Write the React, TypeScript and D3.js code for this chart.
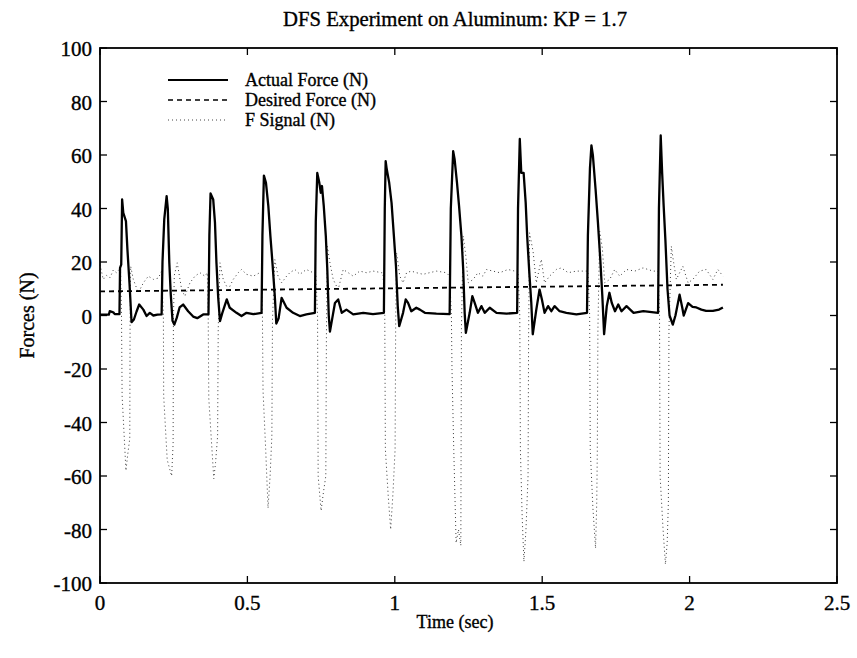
import React from "react";
import * as d3 from "d3";

const W = 857;
const H = 658;
const M = { left: 100, right: 837, top: 48, bottom: 583 };

const titleText = "DFS Experiment on Aluminum: KP = 1.7";
const xLabel = "Time (sec)";
const yLabel = "Forces (N)";
const xTicks = [0, 0.5, 1, 1.5, 2, 2.5];
const yTicks = [-100, -80, -60, -40, -20, 0, 20, 40, 60, 80, 100];
const legendLabels = ["Actual Force (N)", "Desired Force (N)", "F Signal (N)"];

const desiredForce: [number, number][] = [[0, 9], [2.113, 11.5]];

const actualForce: [number, number][] = [
  [0, 0.3], [0.03, 0.3], [0.033, 1.6], [0.045, 1.2], [0.05, 0.5], [0.066, 0.5],
  [0.068, 17.8], [0.072, 19], [0.075, 43.4], [0.079, 38.4], [0.088, 35.3], [0.093, 24.7], [0.1, 12.2], [0.107, -2.5], [0.115, -1.5], [0.124, 1.5], [0.133, 4.1], [0.147, 2.2], [0.158, -0.2], [0.169, 1], [0.181, 0], [0.195, 0.3], [0.209, 0.4],
  [0.212, 20], [0.218, 36], [0.226, 44.6], [0.23, 40], [0.235, 20], [0.24, 8], [0.246, -2], [0.252, -3.4], [0.26, -1], [0.27, 3], [0.282, 4.1], [0.299, 1.6], [0.316, -0.4], [0.33, -1], [0.35, 0.4], [0.368, 0.4],
  [0.371, 30], [0.375, 45.6], [0.384, 43.4], [0.39, 34.7], [0.395, 19.7], [0.401, 6.6], [0.407, -2.1], [0.415, 1], [0.43, 6], [0.44, 2.9], [0.463, 1], [0.48, -0.2], [0.497, 1], [0.52, 0.5], [0.548, 1],
  [0.551, 30], [0.556, 52.3], [0.563, 49.6], [0.571, 40.9], [0.578, 29.7], [0.585, 19.7], [0.593, 7.2], [0.598, -3], [0.606, -1], [0.616, 6.6], [0.633, 2.9], [0.655, 1], [0.678, -0.2], [0.7, 0.4], [0.729, 1],
  [0.732, 35], [0.737, 53.3], [0.744, 49.6], [0.749, 45.9], [0.753, 48.4], [0.759, 41], [0.766, 29.7], [0.771, 17.3], [0.776, 0], [0.78, -6], [0.788, -1], [0.797, 4.7], [0.808, 6], [0.82, 1], [0.836, 2.2], [0.859, 0.4], [0.893, 1], [0.926, 0.5], [0.963, 1],
  [0.966, 40], [0.969, 57.7], [0.972, 55.2], [0.981, 49.6], [0.989, 42.1], [0.997, 29.6], [1.004, 18.4], [1.01, 3.4], [1.015, -4], [1.028, 1], [1.037, 6], [1.045, 4.7], [1.056, 1.6], [1.073, 2.9], [1.085, 2.2], [1.102, 1], [1.141, 0.7], [1.186, 0.5],
  [1.19, 40], [1.198, 61.4], [1.203, 58.3], [1.211, 49.6], [1.218, 40.9], [1.226, 29.7], [1.232, 17.3], [1.237, 1], [1.241, -6.5], [1.254, 1], [1.263, 7.2], [1.271, 4.7], [1.282, 1], [1.294, 3.5], [1.305, 1], [1.322, 2.9], [1.345, 1], [1.379, 0.7], [1.415, 1],
  [1.418, 40], [1.424, 66], [1.429, 53.3], [1.437, 53.3], [1.444, 42.1], [1.449, 29.7], [1.457, 14.7], [1.463, 4.7], [1.468, -7], [1.48, 2.2], [1.491, 9.7], [1.499, 6], [1.508, 1], [1.52, 3.5], [1.531, 1.6], [1.542, 3.5], [1.559, 1.6], [1.582, 1], [1.616, 0.4], [1.652, 1],
  [1.655, 30], [1.662, 55], [1.667, 63.6], [1.672, 59.8], [1.681, 47.3], [1.689, 34.8], [1.697, 21], [1.704, 7.2], [1.71, -7], [1.719, 3.5], [1.728, 8.5], [1.736, 4.7], [1.747, 1.6], [1.758, 4.1], [1.769, 1.6], [1.786, 3.5], [1.81, 1], [1.843, 1.6], [1.893, 1],
  [1.896, 40], [1.902, 67.3], [1.907, 53], [1.912, 41], [1.918, 28], [1.925, 10], [1.932, 0], [1.943, -3.4], [1.952, 0], [1.966, 7.8], [1.975, 3], [1.98, 0], [1.995, 4.6], [2.01, 3.2], [2.023, 3], [2.04, 2.2], [2.056, 1.7], [2.079, 1.7], [2.1, 2.2], [2.113, 3],
];

const fSignal: [number, number][] = [
  [0, 19], [0.006, 16], [0.011, 13.5], [0.022, 15], [0.034, 14.1], [0.045, 17], [0.056, 16], [0.065, 17.2],
  [0.07, 16], [0.073, 0], [0.075, -30], [0.082, -45], [0.088, -58], [0.094, -52], [0.101, -46], [0.102, -4], [0.104, 18.4], [0.113, 13.5], [0.13, 8.5], [0.147, 12.2], [0.164, 14.7], [0.181, 13.5], [0.198, 14], [0.209, 16.6],
  [0.215, 0], [0.216, -30], [0.228, -54], [0.243, -60], [0.248, -48], [0.249, -2], [0.252, 15], [0.262, 19.7], [0.277, 9.7], [0.288, 7.2], [0.305, 12.2], [0.322, 14.7], [0.339, 16], [0.356, 14.7], [0.364, 16],
  [0.367, 0], [0.369, -31], [0.386, -61], [0.392, -55], [0.399, -45], [0.401, -5], [0.407, 19.7], [0.418, 13.5], [0.435, 9.7], [0.452, 13.5], [0.469, 16], [0.48, 17.2], [0.497, 15.4], [0.52, 14.7], [0.542, 16], [0.548, 16],
  [0.551, 0], [0.553, -28], [0.562, -50], [0.57, -72], [0.577, -60], [0.583, -45], [0.585, -2], [0.593, 20.9], [0.604, 14.7], [0.616, 12.2], [0.633, 14.7], [0.644, 16], [0.661, 17.2], [0.678, 15.4], [0.7, 17.2], [0.723, 16], [0.732, 16],
  [0.738, 0], [0.74, -60], [0.75, -73], [0.758, -66], [0.766, -60], [0.768, -8], [0.771, 25.9], [0.78, 19.7], [0.791, 13.5], [0.808, 9.7], [0.825, 17.2], [0.842, 16], [0.859, 14.7], [0.881, 16.6], [0.904, 16], [0.927, 16.6], [0.955, 16], [0.96, 16],
  [0.966, 0], [0.968, -50], [0.978, -68], [0.986, -80], [0.994, -66], [1.001, -50], [1.003, -2], [1.006, 23.4], [1.017, 14.7], [1.028, 12.2], [1.04, 16], [1.056, 16.6], [1.073, 16], [1.096, 15.4], [1.118, 16], [1.141, 16.6], [1.175, 16], [1.186, 14.7],
  [1.192, 0], [1.194, -20], [1.2, -50], [1.208, -85], [1.216, -80], [1.224, -86], [1.226, -5], [1.232, 29.7], [1.241, 22.2], [1.249, 12.2], [1.266, 13.5], [1.282, 16], [1.299, 14.7], [1.311, 17.2], [1.333, 16.6], [1.356, 16], [1.384, 17.2], [1.407, 16.6], [1.418, 16.6],
  [1.424, 0], [1.426, -50], [1.432, -75], [1.438, -92], [1.445, -80], [1.452, -60], [1.454, -5], [1.457, 30.9], [1.469, 24], [1.48, 12.2], [1.497, 21], [1.508, 12.2], [1.525, 14.7], [1.548, 17.2], [1.565, 17.8], [1.588, 16], [1.616, 16.6], [1.644, 16.6], [1.655, 16.6],
  [1.661, 0], [1.663, -50], [1.672, -72], [1.681, -87], [1.685, -70], [1.687, -50], [1.689, -5], [1.695, 31.5], [1.704, 25.2], [1.712, 12.2], [1.729, 13.5], [1.746, 17.2], [1.763, 14.7], [1.786, 17.2], [1.814, 16.6], [1.842, 17.8], [1.876, 16.6], [1.893, 16.6],
  [1.898, 0], [1.9, -60], [1.91, -80], [1.918, -93], [1.924, -85], [1.928, -70], [1.93, -5], [1.938, 25.9], [1.946, 19.7], [1.955, 13.5], [1.977, 18.4], [1.995, 12.2], [2.011, 13.5], [2.034, 16.6], [2.056, 17.2], [2.079, 13.5], [2.096, 17.2], [2.113, 14.7],
];

const FONT = "'Liberation Serif', 'DejaVu Serif', serif";

export default function App() {
  const x = d3.scaleLinear().domain([0, 2.5]).range([M.left, M.right]);
  const y = d3.scaleLinear().domain([-100, 100]).range([M.bottom, M.top]);
  const line = d3
    .line<[number, number]>()
    .x((d) => x(d[0]))
    .y((d) => y(d[1]));
  const tickLen = 7;
  const legendRows = [
    { label: legendLabels[0], dash: undefined, width: 2.2, color: "#000" },
    { label: legendLabels[1], dash: "5,4", width: 1.6, color: "#000" },
    { label: legendLabels[2], dash: "1,3", width: 1, color: "#444" },
  ];
  const textStyle = { stroke: "#000", strokeWidth: 0.35 };
  return (
    <svg width={W} height={H} style={{ display: "block", position: "absolute", left: 0, top: 0, background: "#fff" }} fontFamily={FONT}>
      <rect x={0} y={0} width={W} height={H} fill="#fff" />
      <path d={line(fSignal) || ""} fill="none" stroke="#3a3a3a" strokeWidth={1} strokeDasharray="1,3" />
      <path d={line(desiredForce) || ""} fill="none" stroke="#000" strokeWidth={1.8} strokeDasharray="5,4" />
      <path d={line(actualForce) || ""} fill="none" stroke="#000" strokeWidth={2.3} strokeLinejoin="round" />
      <rect x={M.left} y={M.top} width={M.right - M.left} height={M.bottom - M.top} fill="none" stroke="#000" strokeWidth={1.8} />
      {xTicks.map((t) => (
        <g key={"x" + t}>
          <line x1={x(t)} x2={x(t)} y1={M.bottom} y2={M.bottom - tickLen} stroke="#000" strokeWidth={1.3} />
          <line x1={x(t)} x2={x(t)} y1={M.top} y2={M.top + tickLen} stroke="#000" strokeWidth={1.3} />
          <text x={x(t)} y={M.bottom + 27} textAnchor="middle" fontSize={21} {...textStyle}>
            {String(t)}
          </text>
        </g>
      ))}
      {yTicks.map((t) => (
        <g key={"y" + t}>
          <line x1={M.left} x2={M.left + tickLen} y1={y(t)} y2={y(t)} stroke="#000" strokeWidth={1.3} />
          <line x1={M.right} x2={M.right - tickLen} y1={y(t)} y2={y(t)} stroke="#000" strokeWidth={1.3} />
          <text x={M.left - 8} y={y(t) + 8} textAnchor="end" fontSize={21} {...textStyle}>
            {String(t)}
          </text>
        </g>
      ))}
      <text x={455} y={26} textAnchor="middle" fontSize={20.5} textLength={344} lengthAdjust="spacingAndGlyphs" {...textStyle}>
        {titleText}
      </text>
      <text x={455} y={628} textAnchor="middle" fontSize={18} {...textStyle}>
        {xLabel}
      </text>
      <text transform={`translate(34, ${(M.top + M.bottom) / 2}) rotate(-90)`} textAnchor="middle" fontSize={20} {...textStyle}>
        {yLabel}
      </text>
      {legendRows.map((r, i) => {
        const ly = 80 + i * 20;
        return (
          <g key={r.label}>
            <line x1={168} x2={228} y1={ly} y2={ly} stroke={r.color} strokeWidth={r.width} strokeDasharray={r.dash} />
            <text x={245} y={ly + 6} fontSize={18} {...textStyle}>
              {r.label}
            </text>
          </g>
        );
      })}
    </svg>
  );
}
